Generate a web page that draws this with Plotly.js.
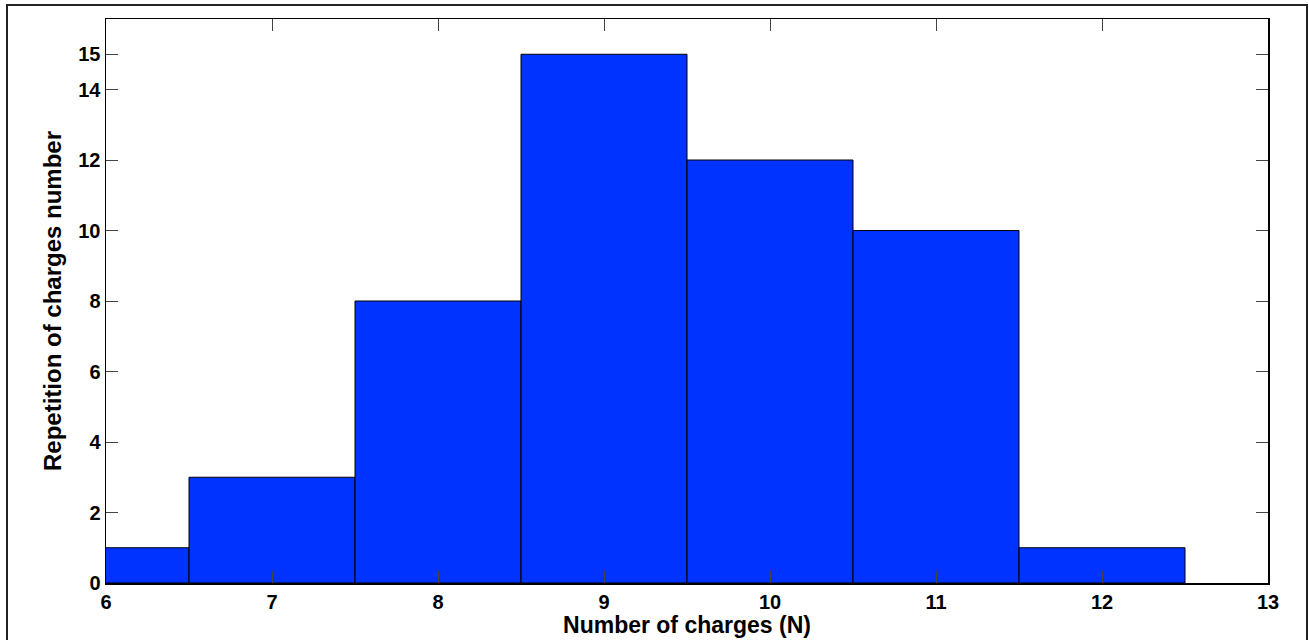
<!DOCTYPE html>
<html>
<head>
<meta charset="utf-8">
<script src="https://cdn.plot.ly/plotly-3.0.1.min.js"></script>
<style>html,body{margin:0;padding:0;background:#fff;}#chart{width:1309px;height:640px;}</style>
</head>
<body>
<div id="chart"></div>
<script>
const binCenters = [6, 7, 8, 9, 10, 11, 12];
const counts = [1, 3, 8, 15, 12, 10, 1];
const xTicks = [6, 7, 8, 9, 10, 11, 12, 13];
const yTicks = [0, 2, 4, 6, 8, 10, 12, 14, 15];

const W = 1309, H = 640;
const m = {l: 106, r: 41, t: 19, b: 57};
const pw = W - m.l - m.r, ph = H - m.t - m.b;
const px = v => (v - m.l) / pw;
const py = v => (H - m.b - v) / ph;

const fontFam = '"Liberation Sans", Arial, sans-serif';

const trace = {
  type: 'bar',
  x: binCenters,
  y: counts,
  width: 1,
  marker: {color: '#0033ff', line: {color: '#000', width: 1}},
  hoverinfo: 'x+y'
};

const layout = {
  width: W, height: H,
  margin: m,
  paper_bgcolor: '#fff', plot_bgcolor: '#fff',
  showlegend: false,
  bargap: 0,
  xaxis: {
    range: [6, 13], tickvals: xTicks, ticktext: xTicks.map(String),
    ticks: 'inside', ticklen: 12, tickcolor: '#444', tickwidth: 1,
    showline: true, linecolor: '#000', linewidth: 1.5, mirror: 'ticks',
    showgrid: false, zeroline: false,
    tickfont: {family: fontFam, size: 20, color: '#000', weight: 'bold'},
    title: {text: 'Number of charges (N)', standoff: 0,
            font: {family: fontFam, size: 23, color: '#000', weight: 'bold'}}
  },
  yaxis: {
    range: [0, 16], tickvals: yTicks, ticktext: yTicks.map(String),
    ticks: 'inside', ticklen: 12, tickcolor: '#444', tickwidth: 1,
    showline: true, linecolor: '#000', linewidth: 1.5, mirror: 'ticks',
    showgrid: false, zeroline: false,
    tickfont: {family: fontFam, size: 20, color: '#000', weight: 'bold'},
    title: {text: 'Repetition of charges number', standoff: 10,
            font: {family: fontFam, size: 24, color: '#000', weight: 'bold'}}
  },
  shapes: [{
    type: 'rect', xref: 'paper', yref: 'paper',
    x0: px(7), x1: px(1307), y0: py(5), y1: py(645),
    line: {color: '#222', width: 2}, fillcolor: 'rgba(0,0,0,0)', layer: 'above'
  }]
};

Plotly.newPlot('chart', [trace], layout, {displayModeBar: false, staticPlot: true});
</script>
</body>
</html>
